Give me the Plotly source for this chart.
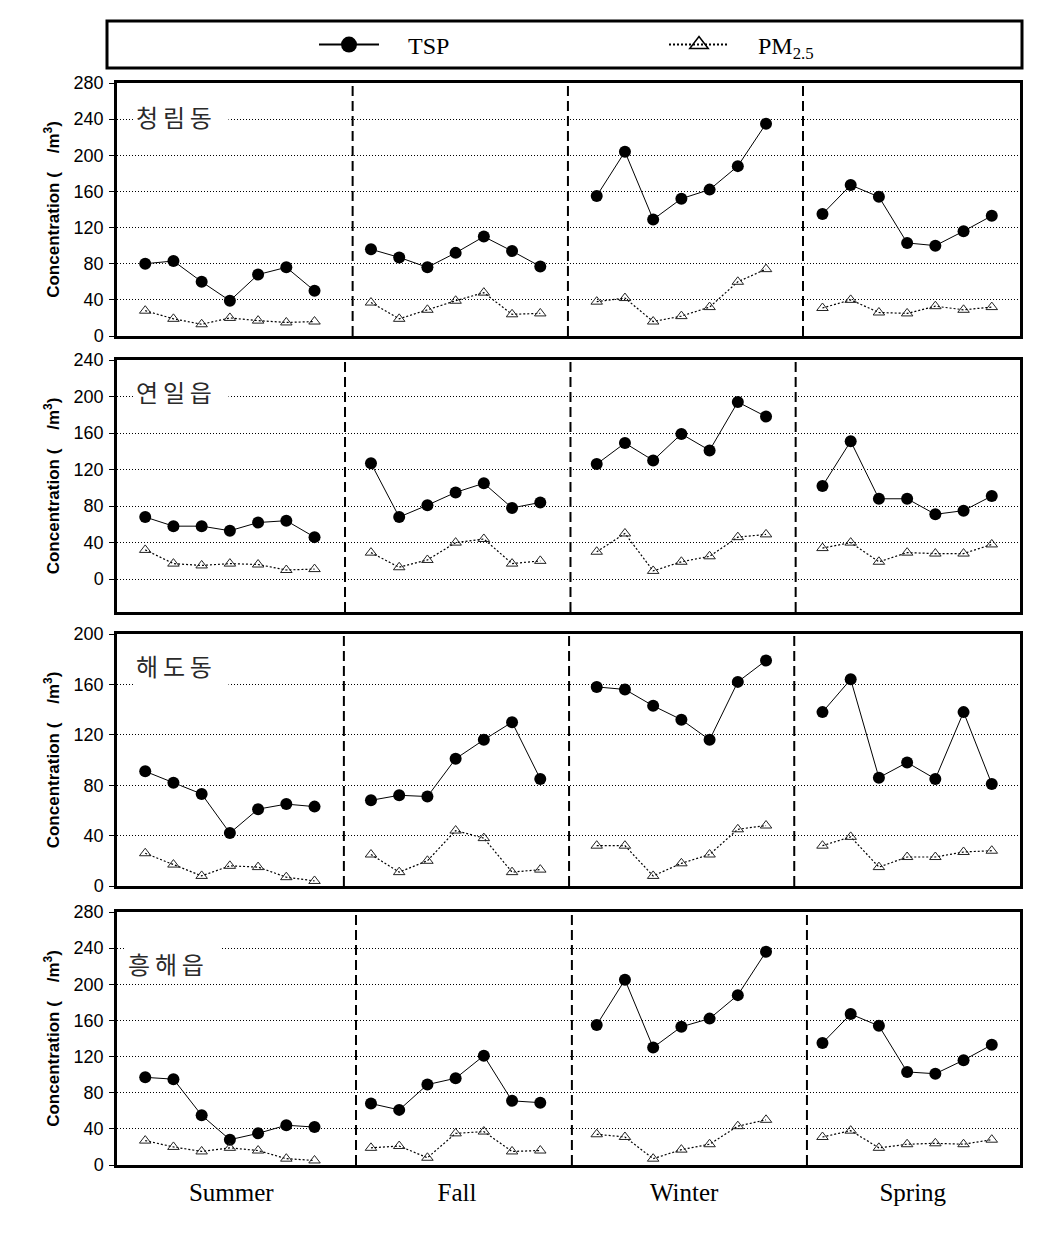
import plotly.graph_objects as go

# ---------------- data ----------------
sites = ["청림동", "연일읍", "해도동", "흥해읍"]
seasons = ["Summer", "Fall", "Winter", "Spring"]

tsp_cheongnim = [80, 83, 60, 39, 68, 76, 50,
                 96, 87, 76, 92, 110, 94, 77,
                 155, 204, 129, 152, 162, 188, 235,
                 135, 167, 154, 103, 100, 116, 133]
pm_cheongnim = [28, 19, 13, 20, 17, 15, 16,
                37, 19, 29, 39, 48, 24, 25,
                38, 42, 16, 22, 32, 60, 74,
                31, 40, 26, 25, 33, 29, 32]

tsp_yeonil = [68, 58, 58, 53, 62, 64, 46,
              127, 68, 81, 95, 105, 78, 84,
              126, 149, 130, 159, 141, 194, 178,
              102, 151, 88, 88, 71, 75, 91]
pm_yeonil = [32, 17, 15, 17, 16, 10, 11,
             29, 13, 21, 40, 44, 17, 20,
             30, 50, 9, 19, 25, 46, 49,
             34, 40, 19, 29, 28, 28, 38]

tsp_haedo = [91, 82, 73, 42, 61, 65, 63,
             68, 72, 71, 101, 116, 130, 85,
             158, 156, 143, 132, 116, 162, 179,
             138, 164, 86, 98, 85, 138, 81]
pm_haedo = [26, 17, 8, 16, 15, 7, 4,
            25, 11, 20, 44, 38, 11, 13,
            32, 32, 8, 18, 25, 45, 48,
            32, 39, 15, 23, 23, 27, 28]

tsp_heunghae = [97, 95, 55, 28, 35, 44, 42,
                68, 61, 89, 96, 121, 71, 69,
                155, 205, 130, 153, 162, 188, 236,
                135, 167, 154, 103, 101, 116, 133]
pm_heunghae = [27, 20, 15, 19, 16, 7, 5,
               19, 21, 8, 35, 37, 15, 16,
               34, 31, 7, 17, 23, 43, 50,
               31, 38, 19, 23, 24, 23, 28]

tsp_all = [tsp_cheongnim, tsp_yeonil, tsp_haedo, tsp_heunghae]
pm_all = [pm_cheongnim, pm_yeonil, pm_haedo, pm_heunghae]

y_ranges = [[0, 280], [-36, 240], [0, 200], [0, 280]]
y_ticks = [list(range(0, 281, 40)), list(range(0, 241, 40)),
           list(range(0, 201, 40)), list(range(0, 281, 40))]
# season separator positions (x units) per panel
dividers = [[8.35, 15.98, 24.31], [8.08, 16.07, 24.05],
            [8.04, 16.02, 24.0], [8.47, 16.12, 24.45]]
season_label_pos = [4.05, 12.05, 20.1, 28.2]

N_PER_SEASON = 7

# ---------------- layout geometry (pixels) ----------------
W, H = 1058, 1235
panel_px = [(83, 336), (360, 612), (634, 886), (912, 1165)]
x_px = (117, 1020)
label_y_px = [117, 391, 665, 964]
label_x_px = [133, 133, 133, 125]


def with_gaps(vals):
    xs, ys = [], []
    for s in range(len(seasons)):
        for j in range(N_PER_SEASON):
            xs.append(s * (N_PER_SEASON + 1) + j + 1)
            ys.append(vals[s * N_PER_SEASON + j])
        xs.append(None)
        ys.append(None)
    return xs, ys


fig = go.Figure()
FONT_SANS = "Arial, Liberation Sans, sans-serif"
FONT_SERIF = "Times New Roman, Liberation Serif, serif"

for i in range(4):
    ax = "" if i == 0 else str(i + 1)
    xs, ys = with_gaps(tsp_all[i])
    fig.add_trace(go.Scatter(
        x=xs, y=ys, mode="lines+markers", xaxis="x" + ax, yaxis="y" + ax,
        line=dict(color="black", width=1),
        marker=dict(symbol="circle", size=12, color="black"),
        showlegend=False, connectgaps=False, name="TSP"))
    xs, ys = with_gaps(pm_all[i])
    fig.add_trace(go.Scatter(
        x=xs, y=ys, mode="lines+markers", xaxis="x" + ax, yaxis="y" + ax,
        line=dict(color="black", width=1.2, dash="2px,2px"),
        marker=dict(symbol="triangle-up-open", size=10, color="#222",
                    line=dict(width=1)),
        showlegend=False, connectgaps=False, name="PM2.5"))

NB = "\u00a0"
# legend-only entries
fig.add_trace(go.Scatter(
    x=[None], y=[None], mode="lines+markers", name=NB * 4 + "TSP",
    line=dict(color="black", width=2),
    marker=dict(symbol="circle", size=17, color="black")))
fig.add_trace(go.Scatter(
    x=[None], y=[None], mode="lines+markers", name=NB * 4 + "PM<sub>2.5</sub>",
    line=dict(color="black", width=2, dash="2px,2px"),
    marker=dict(symbol="triangle-up-open", size=21, color="black",
                line=dict(width=1.5))))

layout = dict(
    width=W, height=H, autosize=False,
    margin=dict(l=0, r=0, t=0, b=0, pad=0, autoexpand=False),
    paper_bgcolor="white", plot_bgcolor="white",
    showlegend=True,
    legend=dict(orientation="h", x=314 / W, xanchor="left",
                y=1 - 45 / H, yanchor="middle",
                font=dict(family=FONT_SERIF, size=24, color="black"),
                itemwidth=60, entrywidth=275, entrywidthmode="pixels",
                bgcolor="rgba(0,0,0,0)"),
)

shapes = [dict(type="rect", xref="paper", yref="paper",
               x0=107 / W, x1=1022 / W, y0=1 - 68 / H, y1=1 - 21 / H,
               line=dict(color="black", width=3))]
annotations = []

for i in range(4):
    ax = "" if i == 0 else str(i + 1)
    top, bot = panel_px[i]
    ydom = [1 - bot / H, 1 - top / H]
    xname = "xaxis" + ax
    yname = "yaxis" + ax
    xa = dict(domain=[x_px[0] / W, x_px[1] / W], range=[0, 32],
              anchor="y" + ax, showgrid=False, zeroline=False,
              showline=True, mirror=True, linecolor="black", linewidth=2.5,
              ticks="", fixedrange=True, automargin=False)
    if i == 3:
        xa.update(tickmode="array", tickvals=season_label_pos, ticktext=seasons,
                  tickfont=dict(family=FONT_SERIF, size=25, color="black"),
                  ticklabelstandoff=3)
    else:
        xa.update(showticklabels=False)
    ya = dict(domain=ydom, range=y_ranges[i], anchor="x" + ax,
              tickmode="array", tickvals=y_ticks[i],
              showgrid=True, gridcolor="black", gridwidth=1, griddash="1px,2px",
              zeroline=False, showline=True, mirror=True, linecolor="black",
              linewidth=2.5, ticks="outside", ticklen=5, tickwidth=1,
              tickcolor="black", ticklabelstandoff=2,
              tickfont=dict(family=FONT_SANS, size=18, color="black"),
              title=dict(text="<b>Concentration (" + NB * 4 + "/m<sup>3</sup>)</b>",
                         font=dict(family=FONT_SANS, size=17, color="black"),
                         standoff=10),
              fixedrange=True, automargin=False)
    layout[xname] = xa
    layout[yname] = ya

    for d in dividers[i]:
        shapes.append(dict(type="line", xref="x" + ax, yref="y" + ax + " domain",
                           x0=d, x1=d, y0=0, y1=1,
                           line=dict(color="black", width=2, dash="10px,5px")))

    annotations.append(dict(
        text="\u2009".join(sites[i]), xref="paper", yref="paper",
        x=label_x_px[i] / W, y=1 - label_y_px[i] / H,
        xanchor="left", yanchor="middle", showarrow=False,
        width=90, align="left", bgcolor="white", borderpad=2,
        font=dict(family="Noto Sans CJK KR", size=24, color="#2a2a2a")))

layout["shapes"] = shapes
layout["annotations"] = annotations
fig.update_layout(**layout)

fig.write_html("out.html", config={"displayModeBar": False},
               post_script="document.body.style.margin='0';")
